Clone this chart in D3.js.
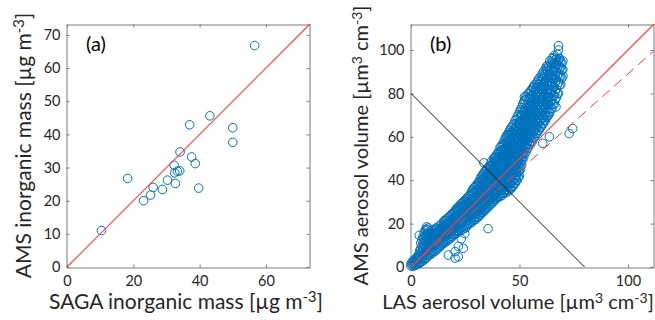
<!DOCTYPE html>
<html>
<head>
<meta charset="utf-8">
<script src="https://cdn.jsdelivr.net/npm/d3@7"></script>
<style>
    body { margin: 0; background: #fff; }
    svg text { font-family: Lato, "Open Sans", sans-serif; fill: #262626; }
</style>
</head>
<body>
<div id="chart"></div>
<script>

// ---- panel (a): SAGA vs AMS inorganic mass ----
const sagaMass = [10.4, 18.3, 23.1, 25.2, 26.0, 28.8, 30.3, 32.3, 32.5, 33.3, 34.0, 32.7, 34.1, 37.0, 37.6, 38.7, 39.7, 43.1, 50.0, 50.0, 56.6];
const amsMass  = [11.0, 26.7, 20.0, 21.7, 24.0, 23.4, 26.2, 30.7, 28.4, 28.9, 29.0, 25.2, 34.7, 42.9, 33.2, 31.2, 23.8, 45.6, 42.0, 37.6, 66.8];

// ---- panel (b): LAS vs AMS aerosol volume, read column by column ----
const lasCols = [0, 1, 2, 3, 4, 5, 6, 7, 8, 9, 10, 11, 12, 13, 14, 15, 16, 17, 18, 19, 20,
    21, 22, 23, 24, 25, 26, 27, 28, 29, 30, 31, 32, 33, 34, 35, 36, 37, 38, 39, 40,
    41, 42, 43, 44, 45, 46, 47, 48, 49, 50, 51, 52, 53, 54, 55, 56, 57, 58, 59, 60,
    61, 62, 63, 64, 65, 66, 67, 68, 69, 70];
const amsCols = [
    [0.5, 1.5],
    [0.3, 1.8, 3],
    [0.8, 2.2, 3.8],
    [1.2, 2.8, 4.6],
    [1.8, 3.5, 5.5, 7.5],
    [2.5, 4.8, 7, 9.5, 12.5],
    [3.2, 5.5, 8, 10.5, 13, 15.5],
    [4, 6.5, 9, 11.5, 14, 17.5],
    [5, 7.5, 10, 12.5, 15, 18],
    [5.8, 8.2, 10.8, 13.2, 15.8],
    [6.5, 9, 11.5, 14, 16.5],
    [7.2, 9.8, 12.2, 14.8, 17.2],
    [8, 10.5, 13, 15.5, 17.8],
    [9, 11.5, 14, 16.5, 18.8],
    [10, 12.5, 15, 17.5, 19.8],
    [10.8, 13.2, 15.8, 18.2, 20.8],
    [11.5, 14, 16.5, 19, 21.5],
    [12.2, 14.8, 17.2, 19.8, 22.5],
    [13, 15.5, 18, 20.5, 23.5],
    [14, 16.5, 19, 21.5, 24.5],
    [15, 17.5, 20, 22.5, 25.5],
    [15.5, 18, 20.5, 23, 25.5, 27],
    [16.2, 18.8, 21.2, 23.8, 26.2, 28],
    [16.8, 19.5, 22, 24.5, 27, 29],
    [17.5, 20, 22.5, 25, 27.5, 30],
    [18, 20.5, 23, 25.5, 28, 30.8],
    [19, 21.5, 24, 26.5, 29, 31.8],
    [20, 22.5, 25, 27.5, 30, 33],
    [20.5, 23, 25.5, 28, 30.5, 33, 35],
    [21.5, 24, 26.5, 29, 31.5, 34, 36.5],
    [22, 24.5, 27, 29.5, 32, 34.5, 37.5],
    [23, 25.5, 28, 30.5, 33, 35.5, 39],
    [24, 26.5, 29, 31.5, 34, 36.5, 39, 41],
    [25, 27.5, 30, 32.5, 35, 37.5, 40, 42.5],
    [26, 28.5, 31, 33.5, 36, 38.5, 41, 44],
    [27, 29.5, 32, 34.5, 37, 39.5, 42, 45],
    [28, 30.5, 33, 35.5, 38, 40.5, 43, 46.5],
    [29, 31.5, 34, 36.5, 39, 41.5, 44, 46.5, 48.5],
    [30, 32.5, 35, 37.5, 40, 42.5, 45, 47.5, 50],
    [31, 33.5, 36, 38.5, 41, 43.5, 46, 48.5, 51],
    [32, 34.5, 37, 39.5, 42, 44.5, 47, 49.5, 52.5],
    [32.5, 35, 37.5, 40, 42.5, 45, 47.5, 50, 52.5, 55],
    [33, 35.5, 38, 40.5, 43, 45.5, 48, 50.5, 53, 56.5],
    [34, 36.5, 39, 41.5, 44, 46.5, 49, 51.5, 54, 56.5, 58.5],
    [34.5, 37, 39.5, 42, 44.5, 47, 49.5, 52, 54.5, 57, 60.5],
    [35, 37.5, 40, 42.5, 45, 47.5, 50, 52.5, 55, 57.5, 60, 62],
    [36, 38.5, 41, 43.5, 46, 48.5, 51, 53.5, 56, 58.5, 61, 64],
    [37, 39.5, 42, 44.5, 47, 49.5, 52, 54.5, 57, 59.5, 62, 65.5],
    [38.5, 41, 43.5, 46, 48.5, 51, 53.5, 56, 58.5, 61, 63.5, 67.5],
    [40, 42.5, 45, 47.5, 50, 52.5, 55, 57.5, 60, 62.5, 65, 69.5],
    [42, 44.5, 47, 49.5, 52, 54.5, 57, 59.5, 62, 64.5, 67, 71.5],
    [47, 49.5, 52, 54.5, 57, 59.5, 62, 64.5, 67, 70, 73.5],
    [51, 53.5, 56, 58.5, 61, 63.5, 66, 68.5, 71.5, 76],
    [53, 55.5, 58, 61, 64, 67, 70, 73, 78.5],
    [55, 58, 61, 64, 67, 70, 73, 76, 80],
    [56.5, 59.5, 62.5, 65.5, 68.5, 71.5, 74.5, 77.5, 81],
    [58, 61, 64, 67, 70, 73, 76, 79, 82.5],
    [60, 63, 66, 69, 72, 75, 78, 81, 84],
    [61.5, 64.5, 67.5, 70.5, 73.5, 76.5, 79.5, 82.5, 85],
    [63, 66, 69, 72, 75, 78, 81, 84, 87],
    [64.5, 67.5, 70.5, 73.5, 76.5, 79.5, 82.5, 85.5, 88],
    [66, 69, 72, 75, 78, 81, 84, 87, 90],
    [67.5, 70.5, 74, 77, 80, 83, 86, 89, 91.5],
    [69.5, 73, 76.5, 80, 83.5, 87, 90, 93],
    [71, 74.5, 78, 81.5, 85, 88.5, 92, 95],
    [73, 77, 81, 84.5, 88, 91.5, 96],
    [75, 79, 83, 86.5, 90, 94, 97.5],
    [78, 82, 86, 90, 93.5, 96],
    [80, 85, 89, 93, 95.5, 100, 102],
    [84, 88, 92, 95],
    [88, 91, 95]
];
// the half-step columns in between
const lasMid = [0.5, 1.5, 2.5, 3.5, 4.5, 5.5, 6.5, 7.5, 8.5, 9.5, 10.5, 11.5, 12.5, 13.5, 14.5,
    15.5, 16.5, 17.5, 18.5, 19.5, 20.5, 21.5, 22.5, 23.5, 24.5, 25.5, 26.5, 27.5, 28.5, 29.5,
    30.5, 31.5, 32.5, 33.5, 34.5, 35.5, 36.5, 37.5, 38.5, 39.5, 40.5, 41.5, 42.5, 43.5, 44.5,
    45.5, 46.5, 47.5, 48.5, 49.5, 50.5, 51.5, 52.5, 53.5, 54.5, 55.5, 56.5, 57.5, 58.5, 59.5,
    60.5, 61.5, 62.5, 63.5, 64.5, 65.5, 66.5, 67.5, 68.5, 69.5];
const amsMid = [
    [0.9, 2.2],
    [1.0, 2.5],
    [1.5, 3.0, 4.2],
    [2.0, 3.8, 5.8],
    [2.5, 4.5, 6.5, 8.5, 11],
    [3.8, 6, 8.5, 11, 13.8],
    [4.5, 7, 9.5, 12, 14.5, 16.8],
    [5.5, 8, 10.5, 13, 15.5, 17.2],
    [6.2, 8.8, 11.2, 13.8, 16.5],
    [7, 9.5, 12, 14.5, 17],
    [7.8, 10.2, 12.8, 15.2],
    [8.5, 11, 13.5, 16, 18],
    [9.2, 11.8, 14.2, 16.8],
    [10.2, 12.8, 15.2, 17.8],
    [11.2, 13.8, 16.2, 18.8],
    [12, 14.5, 17, 19.5, 21.5],
    [12.8, 15.2, 17.8, 20.2, 22.2],
    [13.5, 16, 18.5, 21, 23.2],
    [14.2, 16.8, 19.2, 21.8, 24],
    [15.2, 17.8, 20.2, 22.8, 25],
    [16.2, 18.8, 21.2, 23.8, 26.2],
    [16.8, 19.2, 21.8, 24.2, 26.8],
    [17.5, 20, 22.5, 25, 27.5],
    [18.2, 20.8, 23.2, 25.8, 28.2, 29.5],
    [18.8, 21.2, 23.8, 26.2, 28.8, 30.5],
    [19.5, 22, 24.5, 27, 29.5, 31.5],
    [20.2, 22.8, 25.2, 27.8, 30.2, 32.5],
    [21.2, 23.8, 26.2, 28.8, 31.2, 33.8],
    [21.8, 24.2, 26.8, 29.2, 31.8, 34.2, 35.8],
    [22.8, 25.2, 27.8, 30.2, 32.8, 35.2, 37],
    [23.2, 25.8, 28.2, 30.8, 33.2, 35.8, 38.2],
    [24.2, 26.8, 29.2, 31.8, 34.2, 36.8, 39.5],
    [25.2, 27.8, 30.2, 32.8, 35.2, 37.8, 40.2, 41.8],
    [26.2, 28.8, 31.2, 33.8, 36.2, 38.8, 41.2, 43.2],
    [27.2, 29.8, 32.2, 34.8, 37.2, 39.8, 42.2, 44.5],
    [28.2, 30.8, 33.2, 35.8, 38.2, 40.8, 43.2, 45.8],
    [29.2, 31.8, 34.2, 36.8, 39.2, 41.8, 44.2, 46.8],
    [30.2, 32.8, 35.2, 37.8, 40.2, 42.8, 45.2, 47.8],
    [31.2, 33.8, 36.2, 38.8, 41.2, 43.8, 46.2, 48.8, 50.5],
    [32.2, 34.8, 37.2, 39.8, 42.2, 44.8, 47.2, 49.8, 51.8],
    [33.2, 35.8, 38.2, 40.8, 43.2, 45.8, 48.2, 50.8, 53.2],
    [33.8, 36.2, 38.8, 41.2, 43.8, 46.2, 48.8, 51.2, 53.8, 55.5],
    [34.2, 36.8, 39.2, 41.8, 44.2, 46.8, 49.2, 51.8, 54.2, 56.8],
    [35.2, 37.8, 40.2, 42.8, 45.2, 47.8, 50.2, 52.8, 55.2, 57.8, 59.5],
    [35.8, 38.2, 40.8, 43.2, 45.8, 48.2, 50.8, 53.2, 55.8, 58.2, 61],
    [36.2, 38.8, 41.2, 43.8, 46.2, 48.8, 51.2, 53.8, 56.2, 58.8, 61.2, 63],
    [37.2, 39.8, 42.2, 44.8, 47.2, 49.8, 52.2, 54.8, 57.2, 59.8, 62.2, 64.5],
    [38.5, 41, 43.5, 46, 48.5, 51, 53.5, 56, 58.5, 61, 63.5, 66],
    [40, 42.5, 45, 47.5, 50, 52.5, 55, 57.5, 60, 62.5, 65, 68],
    [41.5, 44, 46.5, 49, 51.5, 54, 56.5, 59, 61.5, 64, 66.5, 70],
    [45, 47.5, 50, 52.5, 55, 57.5, 60, 62.5, 65, 67.5, 70, 72.5],
    [49.5, 52, 54.5, 57, 59.5, 62, 64.5, 67, 69.5, 72, 75],
    [52.5, 55, 57.5, 60, 62.5, 65, 67.5, 70, 73, 77],
    [54.5, 57, 59.5, 62.5, 65.5, 68.5, 71.5, 74.5, 77.5],
    [56.5, 59.5, 62.5, 65.5, 68.5, 71.5, 74.5, 77.5, 80],
    [58, 61, 64, 67, 70, 73, 76, 79, 81.5],
    [59.5, 62.5, 65.5, 68.5, 71.5, 74.5, 77.5, 80.5, 83],
    [61.5, 64.5, 67.5, 70.5, 73.5, 76.5, 79.5, 82.5],
    [63, 66, 69, 72, 75, 78, 81, 84, 86],
    [64.5, 67.5, 70.5, 73.5, 76.5, 79.5, 82.5, 85.5],
    [66, 69, 72, 75, 78, 81, 84, 87, 89],
    [67.5, 70.5, 73.5, 76.5, 79.5, 82.5, 85.5, 88.5],
    [69, 72, 75.5, 78.5, 81.5, 84.5, 87.5, 90.5, 92.5],
    [71.5, 75, 78.5, 82, 85.5, 89, 92.5],
    [73, 76.5, 80, 83.5, 87, 90.5, 94],
    [75, 79, 83, 86.5, 90, 93.5, 96.5],
    [77, 81, 85, 88.5, 92, 95.5],
    [80, 84, 88, 91.5, 94.5, 98],
    [84, 88, 92, 96],
    [87, 91, 94]
];
// stray points outside the main band
const lasStray = [33.6, 35.5, 17.2, 20.3, 21.8, 20.3, 24.1, 21.8, 24.8, 23.2, 60.7, 63.8, 72.9, 74.5, 52.3, 52.3, 66.8, 63.3, 5.7, 7.2, 3.8];
const amsStray = [48.0, 17.7, 5.5, 7.1, 4.7, 4.1, 8.6, 9.5, 15.4, 13.0, 57.0, 60.0, 61.5, 63.8, 78.5, 76.9, 73.8, 70.0, 13.0, 18.5, 14.6];

const fitSlope = 0.89;      // dashed regression line in (b)
const sumLine = 80;         // black line x + y = 80

// ---- drawing ----
const svg = d3.select("#chart").append("svg")
    .attr("width", 655)
    .attr("height", 320);

const axisColor = "#7a7a7a";
const markColor = "#0072BD";
const redColor = "rgb(255, 60, 60)";

function drawPanel(opt) {
    let g = svg.append("g");

    let x = d3.scaleLinear().domain([0, opt.max]).range([opt.left, opt.left + opt.size]);
    let y = d3.scaleLinear().domain([0, opt.max]).range([opt.top + opt.size, opt.top]);

    // axes, ticks pointing inwards on all four sides
    g.append("g")
        .attr("transform", "translate(0," + (opt.top + opt.size + 0.5) + ")")
        .call(d3.axisBottom(x).tickValues(opt.xticks).tickSizeInner(-3).tickSizeOuter(0).tickPadding(8));
    g.append("g")
        .attr("transform", "translate(" + (opt.left - 0.5) + ",0)")
        .call(d3.axisLeft(y).tickValues(opt.yticks).tickSizeInner(-3).tickSizeOuter(0).tickPadding(6));
    g.append("g")
        .attr("transform", "translate(0," + (opt.top + 0.5) + ")")
        .call(d3.axisTop(x).tickValues(opt.xticks).tickSizeInner(-3).tickSizeOuter(0).tickFormat(""));
    g.append("g")
        .attr("transform", "translate(" + (opt.left + opt.size - 0.5) + ",0)")
        .call(d3.axisRight(y).tickValues(opt.yticks).tickSizeInner(-3).tickSizeOuter(0).tickFormat(""));

    g.selectAll(".domain, .tick line").attr("stroke", axisColor);
    g.selectAll(".tick text").attr("font-size", 14.5).attr("font-family", null).attr("fill", "#262626");

    // markers
    g.append("g").selectAll("circle")
        .data(opt.points)
        .enter()
        .append("circle")
        .attr("cx", d => x(d[0]))
        .attr("cy", d => y(d[1]))
        .attr("r", 4.3)
        .attr("fill", "none")
        .attr("stroke", markColor)
        .attr("stroke-width", 1);

    // reference lines, drawn over the markers (endpoints all lie on the box)
    let lines = g.append("g");
    opt.lines.forEach(l => {
        lines.append("line")
            .attr("x1", x(l.from[0])).attr("y1", y(l.from[1]))
            .attr("x2", x(l.to[0])).attr("y2", y(l.to[1]))
            .attr("stroke", l.color)
            .attr("stroke-opacity", 1)
            .attr("stroke-width", l.width)
            .attr("stroke-dasharray", l.dash);
    });

    // panel letter
    g.append("text")
        .attr("x", opt.left + 19)
        .attr("y", opt.top + 27)
        .attr("font-size", 20)
        .style("fill", "#000")
        .text(opt.letter);

    // axis titles with superscripts
    let xt = g.append("text")
        .attr("x", opt.xTitleX)
        .attr("y", 309)
        .attr("text-anchor", "middle")
        .attr("font-size", opt.titleSize);
    addParts(xt, opt.xTitle);

    let yt = g.append("text")
        .attr("transform", "translate(" + opt.yTitleX + "," + (opt.top + opt.size / 2) + ") rotate(-90)")
        .attr("text-anchor", "middle")
        .attr("font-size", opt.titleSize);
    addParts(yt, opt.yTitle);
}

function addParts(sel, parts) {
    parts.forEach(p => {
        if (p.sup) {
            sel.append("tspan").attr("dy", "-0.45em").attr("font-size", "70%").text(p.t);
        } else {
            sel.append("tspan").attr("dy", p.after ? "0.315em" : null).text(p.t);
        }
    });
}

// panel (a)
drawPanel({
    id: "pa",
    left: 67, top: 24, size: 243, max: 73.3,
    xticks: [0, 20, 40, 60],
    yticks: [0, 10, 20, 30, 40, 50, 60, 70],
    points: sagaMass.map((v, i) => [v, amsMass[i]]),
    lines: [{from: [0, 0], to: [73.3, 73.3], color: redColor, width: 1.1, dash: "1000,0"}],
    letter: "(a)",
    titleSize: 21,
    xTitleX: 186,
    yTitleX: 31,
    xTitle: [{t: "SAGA inorganic mass [\u00b5g  m"}, {t: "-3", sup: true}, {t: "]", after: true}],
    yTitle: [{t: "AMS inorganic mass [\u00b5g  m"}, {t: "-3", sup: true}, {t: "]", after: true}]
});

// panel (b)
let volumePoints = [];
lasCols.forEach((lx, i) => amsCols[i].forEach(v => volumePoints.push([lx, v])));
lasMid.forEach((lx, i) => amsMid[i].forEach(v => volumePoints.push([lx, v])));
lasStray.forEach((lx, i) => volumePoints.push([lx, amsStray[i]]));

drawPanel({
    id: "pb",
    left: 411, top: 24, size: 243, max: 112,
    xticks: [0, 50, 100],
    yticks: [0, 20, 40, 60, 80, 100],
    points: volumePoints,
    lines: [
        {from: [0, 0], to: [112, 112], color: redColor, width: 1.1, dash: "1000,0"},
        {from: [0, 0], to: [112, 112 * fitSlope], color: redColor, width: 1, dash: "10,6"},
        {from: [0, sumLine], to: [sumLine, 0], color: "#1a1a1a", width: 1, dash: "1000,0"}
    ],
    letter: "(b)",
    titleSize: 20,
    xTitleX: 518,
    yTitleX: 368,
    xTitle: [{t: "LAS aerosol volume [\u00b5m"}, {t: "3", sup: true}, {t: " cm", after: true}, {t: "-3", sup: true}, {t: "]", after: true}],
    yTitle: [{t: "AMS aerosol volume [\u00b5m"}, {t: "3", sup: true}, {t: " cm", after: true}, {t: "-3", sup: true}, {t: "]", after: true}]
});

</script>
</body>
</html>
